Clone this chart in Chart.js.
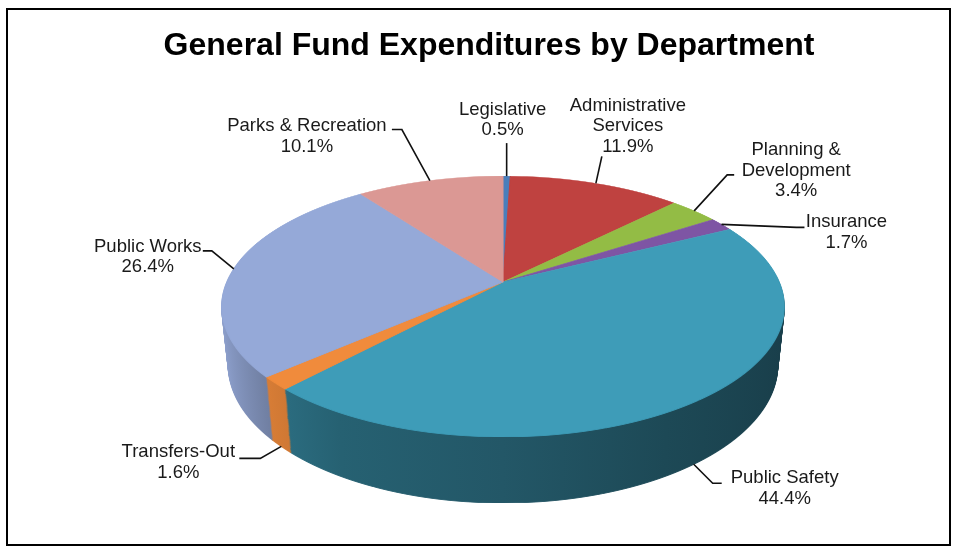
<!DOCTYPE html>
<html>
<head>
<meta charset="utf-8">
<title>General Fund Expenditures by Department</title>
<script src="https://cdn.jsdelivr.net/npm/chart.js@4.4.1/dist/chart.umd.min.js"></script>
<style>
  html, body { margin: 0; padding: 0; background: #fff; }
  #wrap { position: relative; width: 958px; height: 548px; }
</style>
</head>
<body>
<div id="wrap"><canvas id="fundChart"></canvas></div>
<script>
// departments, clockwise from 12 o'clock
const departments = [
  ['Legislative'],
  ['Administrative', 'Services'],
  ['Planning &', 'Development'],
  ['Insurance'],
  ['Public Safety'],
  ['Transfers-Out'],
  ['Public Works'],
  ['Parks & Recreation']
];
// share of the general fund, in percent
const shares = [0.5, 11.9, 3.4, 1.7, 44.4, 1.6, 26.4, 10.1];
const sliceColors = ['#4A7EBB', '#BF4240', '#93BC45', '#7E55A4', '#3E9CB8', '#F08B3C', '#95A9D8', '#DB9894'];
// how bright each slice's outer wall is compared to the default shading
const wallLight = [1, 1, 1.1, 1, 1, 1.25, 1.05, 1];

// label block centre and leader elbow, offsets from the slice's rim point
const labelLayout = [
  { text: [-4, -56], elbow: [0, -33], tail: 0 },
  { text: [32, -57], elbow: [6, -27], tail: 0 },
  { text: [102, -40], elbow: [33, -36], tail: 7 },
  { text: [125, 8], elbow: [75, 3], tail: 8 },
  { text: [91, 24], elbow: [19, 19], tail: 9 },
  { text: [-103, 16], elbow: [-21, 12], tail: -21 },
  { text: [-86, -12], elbow: [-22, -18], tail: -9 },
  { text: [-123, -44], elbow: [-28, -51], tail: -10 }
];

// camera for the tilted pie: screen point of the centre, focal length (px),
// distance and thickness in pie radii, tilt in degrees
const view = { cx: 503, cy: 282, focal: 1309, dist: 4.74, tilt: 27.1, depth: 0.239 };
const sinT = Math.sin(view.tilt * Math.PI / 180);
const cosT = Math.cos(view.tilt * Math.PI / 180);

// u, v on the unit disc (v towards the viewer), z = distance below the top face
function project(u, v, z) {
  const w = view.dist - v * cosT + z * sinT;
  return { x: view.cx + view.focal * u / w, y: view.cy + view.focal * (v * sinT + z * cosT) / w };
}

// for a screen row (relative to cy) on the plane at depth z: disc row v and local scales
function rowMap(yRel, z) {
  const q = view.dist + z * sinT;
  const v = (yRel * q - view.focal * z * cosT) / (view.focal * sinT + yRel * cosT);
  const w = q - v * cosT;
  return { v: v, kx: view.focal / w, ky: view.focal * (sinT * q + z * cosT * cosT) / (w * w) };
}

function shade(hex, k) {
  const n = parseInt(hex.slice(1), 16);
  const ch = [(n >> 16) & 255, (n >> 8) & 255, n & 255].map(c => Math.min(255, Math.round(c * k)));
  return 'rgb(' + ch.join(',') + ')';
}

// draws the arcs row by row so the flat pie lands on the tilted plane at depth z
function drawPlane(chart, elems, z, vFrom) {
  const ctx = chart.ctx;
  const pr = chart.currentDevicePixelRatio;
  const ref = elems[0];
  const x0 = ref.x, y0 = ref.y, r = ref.outerRadius;
  const top = Math.floor(project(0, vFrom, z).y);
  const bottom = Math.ceil(project(0, 1, z).y);
  for (let row = top; row < bottom; row++) {
    const m = rowMap(row + 0.5 - view.cy, z);
    if (m.v < -1.01 || m.v > 1.01) continue;
    const a = m.kx / r, d = m.ky / r;
    const e = view.cx - a * x0;
    const f = row + 0.5 - d * (y0 + r * m.v);
    ctx.save();
    ctx.beginPath();
    ctx.rect(0, row, chart.width, 1);
    ctx.clip();
    ctx.setTransform(pr * a, 0, 0, pr * d, pr * e, pr * f);
    elems.forEach(el => el.draw(ctx));
    ctx.restore();
  }
}

const pie3d = {
  id: 'pie3d',
  beforeDraw(chart) {
    const ctx = chart.ctx;
    ctx.save();
    ctx.fillStyle = '#fff';
    ctx.fillRect(0, 0, chart.width, chart.height);
    ctx.restore();
  },
  beforeDatasetsDraw(chart) {
    const ctx = chart.ctx;
    const arcs = chart.getDatasetMeta(0).data;
    const x0 = arcs[0].x, r = arcs[0].outerRadius;

    // outer wall: stack of darker discs, only slices that reach the front
    const walls = [];
    arcs.forEach((el, i) => {
      let front = false;
      for (let t = el.startAngle; t <= el.endAngle; t += 0.02) {
        if (Math.sin(t) > -0.1) { front = true; break; }
      }
      if (!front) return;
      const g = ctx.createLinearGradient(x0 - r, 0, x0 + r, 0);
      [[0, 0.92], [0.12, 0.72], [0.25, 0.62], [0.5, 0.56], [0.75, 0.47], [1, 0.4]].forEach(s => {
        g.addColorStop(s[0], shade(sliceColors[i], s[1] * wallLight[i]));
      });
      const w = Object.create(el);
      w.options = Object.assign({}, el.options, { backgroundColor: g, borderColor: g });
      walls.push(w);
    });
    const px = Math.ceil(project(0, 1, view.depth).y - project(0, 1, 0).y);
    for (let k = px; k >= 1; k--) {
      drawPlane(chart, walls, view.depth * k / px, -0.05);
    }

    // top face
    drawPlane(chart, arcs, 0, -1);
    return false;
  },
  afterDraw(chart) {
    const ctx = chart.ctx;
    const arcs = chart.getDatasetMeta(0).data;
    ctx.save();
    ctx.strokeStyle = '#111';
    ctx.lineWidth = 1.6;
    ctx.fillStyle = '#1a1a1a';
    ctx.font = '18.5px "Liberation Sans", Arial, sans-serif';
    ctx.textAlign = 'center';
    ctx.textBaseline = 'middle';
    arcs.forEach((el, i) => {
      const mid = (el.startAngle + el.endAngle) / 2;
      const u = Math.cos(mid), v = Math.sin(mid);
      const p = project(u, v, v > 0.3 ? view.depth : 0);
      const lay = labelLayout[i];
      const ex = p.x + lay.elbow[0], ey = p.y + lay.elbow[1];
      ctx.beginPath();
      ctx.moveTo(p.x, p.y);
      ctx.lineTo(ex, ey);
      if (lay.tail) ctx.lineTo(ex + lay.tail, ey);
      ctx.stroke();
      const lines = departments[i].concat([shares[i].toFixed(1) + '%']);
      const lh = 20.5;
      const tx = p.x + lay.text[0], ty = p.y + lay.text[1];
      lines.forEach((t, j) => {
        ctx.fillText(t, tx, ty + (j - (lines.length - 1) / 2) * lh);
      });
    });
    // chart frame
    ctx.strokeStyle = '#000';
    ctx.lineWidth = 2;
    ctx.strokeRect(7, 9, 943, 536);
    ctx.restore();
  }
};

new Chart(document.getElementById('fundChart'), {
  type: 'pie',
  data: {
    labels: departments,
    datasets: [{
      data: shares,
      backgroundColor: sliceColors,
      borderColor: sliceColors,
      borderWidth: 1
    }]
  },
  options: {
    responsive: true,
    maintainAspectRatio: false,
    animation: false,
    events: [],
    layout: { padding: { left: 20, right: 0, top: 0, bottom: 10 } },
    plugins: {
      legend: { display: false },
      tooltip: { enabled: false },
      title: {
        display: true,
        text: 'General Fund Expenditures by Department',
        color: '#000',
        font: { family: '"Liberation Sans", Arial, sans-serif', size: 32, weight: 'bold' },
        padding: { top: 27, bottom: 10 }
      }
    }
  },
  plugins: [pie3d]
});
</script>
</body>
</html>
